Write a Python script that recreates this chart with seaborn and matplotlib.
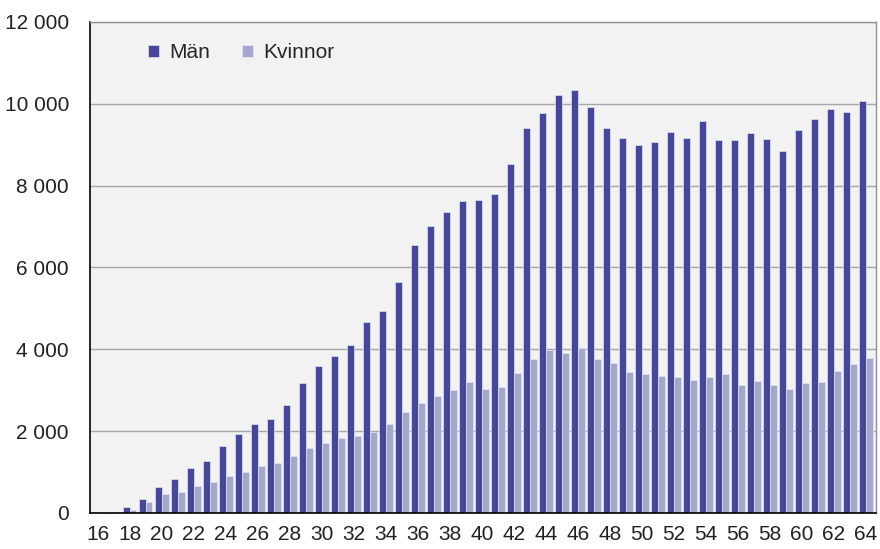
"""Bar chart: antal per ålder, män och kvinnor."""

import numpy as np
import pandas as pd
import matplotlib
matplotlib.use("Agg")
import matplotlib.pyplot as plt
from matplotlib.ticker import FuncFormatter
import seaborn as sns

ages = list(range(16, 65))

man = [33, 33, 146, 350, 634, 837, 1089, 1260, 1626, 1935,
       2179, 2309, 2634, 3171, 3585, 3825, 4095, 4672, 4940, 5655,
       6560, 7015, 7350, 7617, 7650, 7790, 8520, 9420, 9764, 10210,
       10325, 9926, 9405, 9161, 8983, 9073, 9300, 9170, 9568, 9122,
       9112, 9275, 9146, 8844, 9366, 9617, 9861, 9805, 10073]

kvinnor = [10, 25, 81, 268, 463, 504, 659, 756, 911, 1000,
           1146, 1220, 1390, 1593, 1715, 1843, 1892, 1987, 2185, 2470,
           2690, 2868, 3007, 3195, 3032, 3081, 3422, 3764, 3975, 3910,
           4025, 3756, 3659, 3448, 3400, 3350, 3334, 3253, 3326, 3390,
           3122, 3220, 3130, 3032, 3180, 3203, 3464, 3642, 3788]

series_names = ["Män", "Kvinnor"]
colors = ["#46479A", "#A5A6CE"]
yticks = [0, 2000, 4000, 6000, 8000, 10000, 12000]


def main():
    df = pd.DataFrame({
        "ålder": ages * 2,
        "antal": man + kvinnor,
        "kön": ["Män"] * len(ages) + ["Kvinnor"] * len(ages),
    })

    sns.set_style("white")
    plt.rcParams["font.family"] = ["Liberation Sans", "DejaVu Sans"]

    fig = plt.figure(figsize=(8.8, 5.49), dpi=100)
    ax = fig.add_axes([0.102, 0.0656, 0.893, 0.8944])
    ax.set_facecolor("#F2F2F2")

    sns.barplot(data=df, x="ålder", y="antal", hue="kön",
                hue_order=series_names, palette=colors, saturation=1,
                width=0.84, edgecolor="#E4E4F0", linewidth=0.5,
                errorbar=None, ax=ax)

    ax.set_ylim(0, 12000)
    ax.set_xlim(-0.5, 48.6)
    ax.set_yticks(yticks)
    ax.yaxis.set_major_formatter(
        FuncFormatter(lambda v, p: f"{v:,.0f}".replace(",", " ")))
    ax.set_xticks(np.arange(0, len(ages), 2))
    ax.set_xticklabels([str(a) for a in ages[::2]])

    ax.grid(axis="y", color="#A6A6A6", linewidth=1)
    ax.set_axisbelow(True)
    ax.tick_params(axis="y", length=7, width=1, color="#808080",
                   labelsize=15, pad=8)
    ax.tick_params(axis="x", length=0, labelsize=15, pad=9)
    for lab in ax.get_xticklabels() + ax.get_yticklabels():
        lab.set_color("#222222")

    for side in ["left", "bottom"]:
        ax.spines[side].set_color("black")
        ax.spines[side].set_linewidth(1.2)
    for side in ["top", "right"]:
        ax.spines[side].set_color("#909090")
        ax.spines[side].set_linewidth(1)

    ax.set_xlabel("")
    ax.set_ylabel("")

    ax.legend(loc="upper left", bbox_to_anchor=(0.05, 0.995), ncol=2,
              frameon=False, fontsize=15, handlelength=0.55,
              handleheight=0.55, handletextpad=0.5, columnspacing=1.5,
              title=None)

    fig.savefig("out.png", dpi=100, facecolor="white")
    plt.close(fig)


if __name__ == "__main__":
    main()
